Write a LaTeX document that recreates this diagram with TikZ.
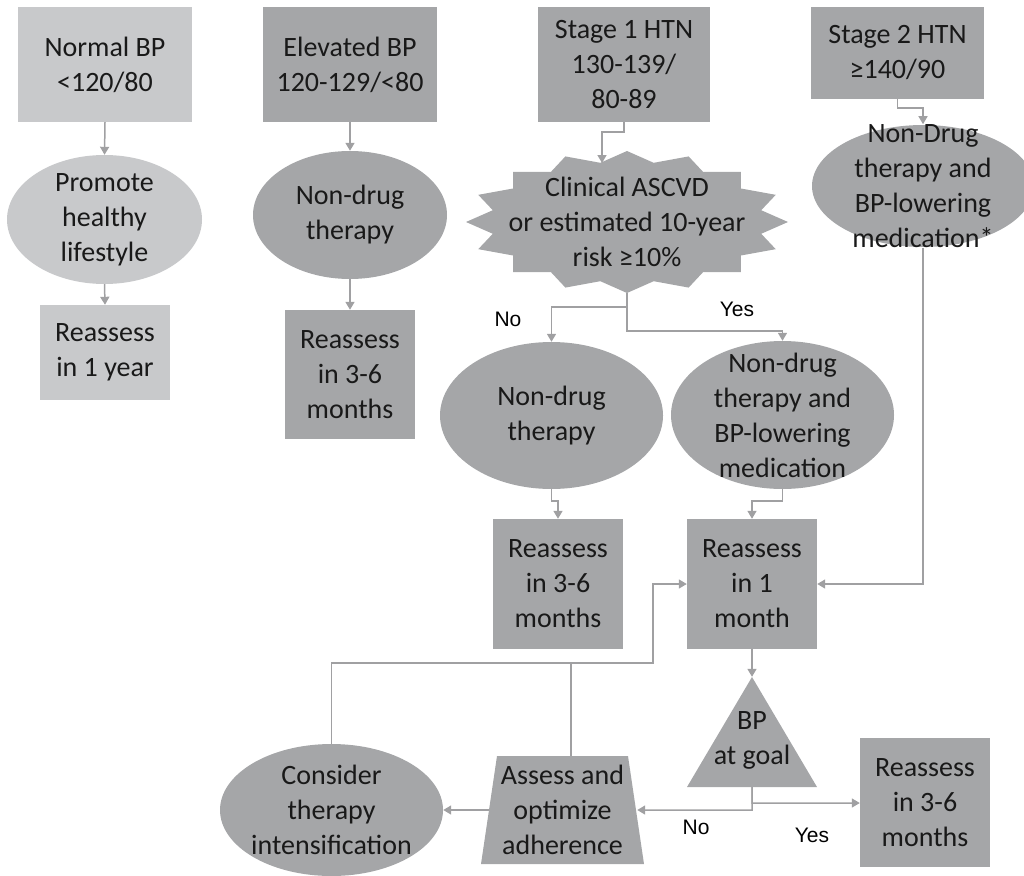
\documentclass[tikz,border=0pt]{standalone}
\usepackage{fontspec}
\setmainfont{Carlito}
\newfontfamily\labelfont{Liberation Sans}
\usetikzlibrary{arrows.meta}
\definecolor{lightfill}{RGB}{200,201,203}
\definecolor{darkfill}{RGB}{165,166,168}
\definecolor{wire}{RGB}{160,160,162}
\definecolor{ink}{RGB}{25,25,25}

\begin{document}
\begin{tikzpicture}[x=1pt,y=-1pt,
  every node/.style={text=ink, font=\fontsize{28}{35}\selectfont, align=center, inner sep=0pt},
  % rectangular box: width, height, fill colour
  box/.style n args={3}{rectangle, fill=#3, minimum width=#1, minimum height=#2},
  % ellipse drawn inside a rectangular node: x radius, y radius, fill colour
  oval/.style n args={3}{rectangle, minimum width=2*#1, minimum height=2*#2,
    path picture={\fill[#3] (path picture bounding box.center) ellipse [x radius=#1pt, y radius=#2pt];}},
  goalshape/.style={rectangle, minimum width=130, minimum height=110,
    path picture={\fill[darkfill] (path picture bounding box.north) -- (path picture bounding box.south east)
      -- (path picture bounding box.south west) -- cycle;}},
  trapshape/.style={rectangle, minimum width=163, minimum height=108,
    path picture={\fill[darkfill] (path picture bounding box.south west) -- (path picture bounding box.south east)
      -- ([xshift=-16pt]path picture bounding box.north east) -- ([xshift=16pt]path picture bounding box.north west) -- cycle;}},
  arr/.style={draw=wire, line width=1.5pt, -{Triangle[length=8pt,width=9pt]}},
  wireline/.style={draw=wire, line width=1.5pt},
  lab/.style={font=\labelfont\fontsize{21}{25}\selectfont, text=black}
]
\clip (0,0) rectangle (1024,875);

% 16-point star behind the risk question
\fill[darkfill] plot[samples=33, domain=0:32, variable=\k]
  ({627+161*(1-0.15*mod(round(\k),2))*cos(90+11.25*\k)},
   {222-71*(1-0.15*mod(round(\k),2))*sin(90+11.25*\k)}) -- cycle;

% Normal BP column
\node[box={174}{115}{lightfill}] (normal) at (105,64.5) {Normal BP\\<120/80};
\node[oval={97.5}{64.5}{lightfill}] (promote) at (104.5,219.5) {Promote\\healthy\\lifestyle};
\node[box={130}{95}{lightfill}] (year) at (105,352.5) {Reassess\\in 1 year};

% Elevated BP column
\node[box={174}{115}{darkfill}] (elev) at (350,64.5) {Elevated BP\\120-129/<80};
\node[oval={97}{64}{darkfill}] (ndt) at (350,215) {Non-drug\\therapy};
\node[box={130}{129}{darkfill}] (elevre) at (350,374.5) {Reassess\\in 3-6\\months};

% Stage 1 column
\node[box={172}{115}{darkfill}] (stage1) at (624,64.5) {Stage 1 HTN\\130-139/\\80-89};
\node[rectangle, minimum width=322, minimum height=142] (risk) at (627,222)
  {Clinical ASCVD\\or estimated 10-year\\risk ≥10\%};
\node[oval={111.5}{73.5}{darkfill}] (lnd) at (551.5,415.5) {Non-drug\\therapy};
\node[oval={111.5}{74}{darkfill}] (rnd) at (782.5,415) {Non-drug\\therapy and\\BP-lowering\\medication};
\node[box={130}{130}{darkfill}] (mid36) at (558,584) {Reassess\\in 3-6\\months};
\node[box={130}{130}{darkfill}] (month) at (752,584) {Reassess\\in 1\\month};

% Stage 2 column
\node[box={173}{92}{darkfill}] (stage2) at (897.5,53) {Stage 2 HTN\\≥140/90};
\node[oval={111}{61}{darkfill}] (s2e) at (923,186) {Non-Drug\\therapy and\\BP-lowering\\medication*};

% follow-up loop
\node[goalshape] (goal) at (752,732) {\mbox{}\\BP\\at goal};
\node[box={130}{129}{darkfill}] (right36) at (925,802.5) {Reassess\\in 3-6\\months};
\node[trapshape] (trap) at (562.5,810) {Assess and\\optimize\\adherence};
\node[oval={111.5}{66}{darkfill}] (consider) at (331.5,810) {Consider\\therapy\\intensification};

% connectors
\draw[arr] (normal.south) -- (promote.north);
\draw[arr] (promote.south) -- (year.north);
\draw[arr] (elev.south) -- (ndt.north);
\draw[arr] (ndt.south) -- (elevre.north);

\coordinate (starin) at (602,163);
\draw[arr] (stage1.south) -- ++(0,10) -| (starin);
\coordinate (split) at (627,307);
\draw[arr] (risk.south) -- (split) -| (lnd.north);
\draw[arr] (split) -- ++(0,24) -| (rnd.north);
\node[lab] (no1) at (508,319) {No};
\node[lab] (yes1) at (737,309) {Yes};

\draw[arr] (lnd.south) -- ++(0,12) -| (mid36.north);
\draw[arr] (rnd.south) -- ++(0,12) -| (month.north);

\draw[arr] (stage2.south) -- ++(0,9) -| (s2e.north);
\draw[arr] (s2e.south) |- (month.east);

\draw[arr] (month.south) -- (goal.north);
\draw[arr] (goal.south) -- ++(0,16) -- (right36.west |- 0,803);
\coordinate (trapin) at ([xshift=-7pt]trap.east);
\draw[arr] (goal.south) -- ++(0,23) -- (trapin);
\node[lab] (no2) at (696,827) {No};
\node[lab] (yes2) at (812,835) {Yes};

\coordinate (trapout) at ([xshift=8pt]trap.west);
\draw[arr] (trapout) -- (consider.east);
\coordinate (loop) at (653,663);
\draw[arr] (consider.north) |- (loop) |- (month.west);
\coordinate (traptop) at ([xshift=8.5pt]trap.north);
\draw[wireline] (traptop) -- (traptop |- loop);
\end{tikzpicture}
\end{document}
